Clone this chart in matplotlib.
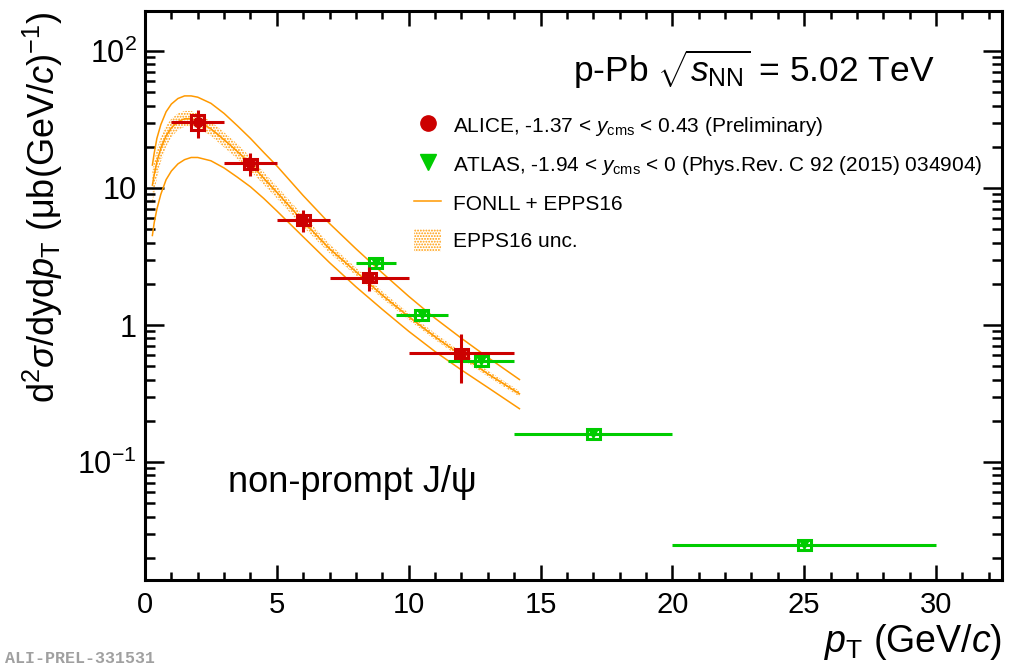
import matplotlib.pyplot as plt
from matplotlib.lines import Line2D
from matplotlib.patches import Patch, Rectangle
from matplotlib.ticker import LogLocator, MultipleLocator, NullFormatter

plt.rcParams["font.family"] = ["Liberation Sans", "DejaVu Sans"]
plt.rcParams["mathtext.fontset"] = "custom"
plt.rcParams["mathtext.rm"] = "Liberation Sans"
plt.rcParams["mathtext.it"] = "Liberation Sans:italic"
plt.rcParams["mathtext.bf"] = "Liberation Sans:bold"
plt.rcParams["hatch.linewidth"] = 0.9

# ALICE preliminary, -1.37 < y_cms < 0.43
alice_pt = [2, 4, 6, 8.5, 12]
alice_pt_lo = [1, 3, 5, 7, 10]
alice_pt_hi = [3, 5, 7, 10, 14]
alice_y = [30.2, 15.1, 5.85, 2.22, 0.62]
alice_stat = [7.0, 2.8, 1.05, 0.45, 0.24]
alice_sys = [3.8, 1.3, 0.5, 0.17, 0.05]

# ATLAS, -1.94 < y_cms < 0
atlas_pt = [8.75, 10.5, 12.75, 17, 25]
atlas_pt_lo = [8, 9.5, 11.5, 14, 20]
atlas_pt_hi = [9.5, 11.5, 14, 20, 30]
atlas_y = [2.85, 1.18, 0.55, 0.16, 0.0248]
atlas_stat = [0.06, 0.025, 0.012, 0.004, 0.0009]
atlas_sys = [0.24, 0.1, 0.045, 0.013, 0.002]

# FONLL + EPPS16
fonll_pt = [0.28, 0.35, 0.45, 0.6, 0.8, 1.0, 1.25, 1.5, 1.75, 2.0, 2.5, 3.0, 3.5,
            4.0, 4.5, 5.0, 6.0, 7.0, 8.0, 9.0, 10.0, 11.0, 12.0, 13.0, 14.2]
fonll_central = [10.5, 12.5, 15.5, 19.5, 24, 27.5, 30.5, 32, 32, 31, 27, 22.5, 18.5,
                 15, 11.8, 9.3, 5.7, 3.6, 2.45, 1.65, 1.15, 0.82, 0.6, 0.44, 0.315]
fonll_upper = [14.7, 18, 23, 29, 36, 41, 45, 47, 47, 46, 41.5, 35, 28.5,
               23, 18.2, 14.5, 8.8, 5.5, 3.6, 2.4, 1.62, 1.12, 0.8, 0.58, 0.40]
fonll_lower = [4.5, 5.6, 7.0, 9.0, 11.5, 13.3, 15.0, 16.1, 16.7, 16.7, 15.8, 14.0, 12.0,
               10.2, 8.4, 6.8, 4.4, 2.85, 1.9, 1.3, 0.9, 0.64, 0.47, 0.35, 0.245]
epps_lo = [7.5, 9.2, 11.8, 15.5, 20, 23.5, 26.5, 28, 28, 27.5, 24, 19.8, 16.3,
           13.3, 10.6, 8.4, 5.2, 3.35, 2.3, 1.56, 1.09, 0.78, 0.57, 0.42, 0.30]
epps_hi = [13.5, 15.8, 19, 23.5, 28.5, 32, 35, 36.5, 36.5, 35, 30.5, 25.5, 21,
           16.8, 13.1, 10.3, 6.3, 3.9, 2.62, 1.76, 1.22, 0.87, 0.635, 0.465, 0.33]

red = "#cc0000"
green = "#00cc00"
orange = "#ff9900"

fig = plt.figure(figsize=(10.09, 6.69), dpi=100)
ax = fig.add_axes([145 / 1009, 89 / 669, 857 / 1009, 569 / 669])
ax.set_yscale("log")
ax.set_xlim(0, 32.5)
ax.set_ylim(0.01377, 195.8)

# theory
ax.fill_between(fonll_pt, epps_lo, epps_hi, facecolor="none", edgecolor=orange,
                hatch="......", linewidth=0)
for curve in (fonll_central, fonll_upper, fonll_lower):
    ax.plot(fonll_pt, curve, color=orange, lw=1.1)


def draw_points(pt, lo, hi, y, stat, sys, color, marker, ms):
    xerr = [[p - l for p, l in zip(pt, lo)], [h - p for p, h in zip(pt, hi)]]
    for p, v, s in zip(pt, y, sys):
        ax.add_patch(Rectangle((p - 0.25, v - s), 0.5, 2 * s, facecolor="none",
                               edgecolor=color, lw=2.2, zorder=4))
    ax.errorbar(pt, y, xerr=xerr, yerr=stat, fmt=marker, color=color, ms=ms,
                elinewidth=2.2, capsize=0, zorder=5)


draw_points(atlas_pt, atlas_pt_lo, atlas_pt_hi, atlas_y, atlas_stat, atlas_sys,
            green, "v", 6)
draw_points(alice_pt, alice_pt_lo, alice_pt_hi, alice_y, alice_stat, alice_sys,
            red, "o", 7)

# axes style
for sp in ax.spines.values():
    sp.set_linewidth(2.2)
ax.set_xticks(range(0, 31, 5))
ax.xaxis.set_minor_locator(MultipleLocator(1))
ax.set_yticks([0.1, 1, 10, 100], labels=[r"$10^{-1}$", "1", "10", r"$10^{2}$"])
ax.yaxis.set_minor_locator(LogLocator(base=10, subs=range(2, 10), numticks=20))
ax.yaxis.set_minor_formatter(NullFormatter())
ax.tick_params(which="both", direction="in", top=True, right=True, width=1.8)
ax.tick_params(axis="x", which="major", length=11, labelsize=21, pad=8)
ax.tick_params(axis="x", which="minor", length=5.5)
ax.tick_params(axis="y", which="major", length=14, labelsize=22, pad=6)
ax.tick_params(axis="y", which="minor", length=7)

ax.set_xlabel(r"$p_{\rm T}$ (GeV/$c$)", fontsize=27, loc="right", labelpad=2)
ax.set_ylabel(r"d$^{2}\sigma$/dyd$p_{\rm T}$ (μb(GeV/$c)^{-1}$)", fontsize=26,
              loc="top", labelpad=9)

ax.text(0.499, 0.876, r"p-Pb $\sqrt{s_{\rm NN}}$ = 5.02 TeV", transform=ax.transAxes,
        fontsize=25.5, va="baseline")
ax.text(0.097, 0.155, "non-prompt J/ψ", transform=ax.transAxes, fontsize=26,
        va="baseline")

handles = [
    Line2D([], [], marker="o", color=red, ls="none", ms=11),
    Line2D([], [], marker="v", color=green, ls="none", ms=11),
    Line2D([], [], color=orange, lw=1.1),
    Patch(facecolor="none", edgecolor=orange, hatch="......", lw=0),
]
labels = [
    r"ALICE, -1.37 < $y_{\rm cms}$ < 0.43 (Preliminary)",
    r"ATLAS, -1.94 < $y_{\rm cms}$ < 0 (Phys.Rev. C 92 (2015) 034904)",
    "FONLL + EPPS16",
    "EPPS16 unc.",
]
ax.legend(handles, labels, loc="upper left", bbox_to_anchor=(414 / 1009, 1 - 114 / 669),
          bbox_transform=fig.transFigure, frameon=False, fontsize=15, borderpad=0,
          borderaxespad=0, handlelength=1.3, handletextpad=0.55, labelspacing=0.7,
          handleheight=1.3)

fig.text(5 / 1009, 3 / 669, "ALI-PREL-331531", family="Liberation Mono", weight="bold",
         color="#a0a0a0", fontsize=12, va="bottom")

fig.savefig("out.png", dpi=100)
